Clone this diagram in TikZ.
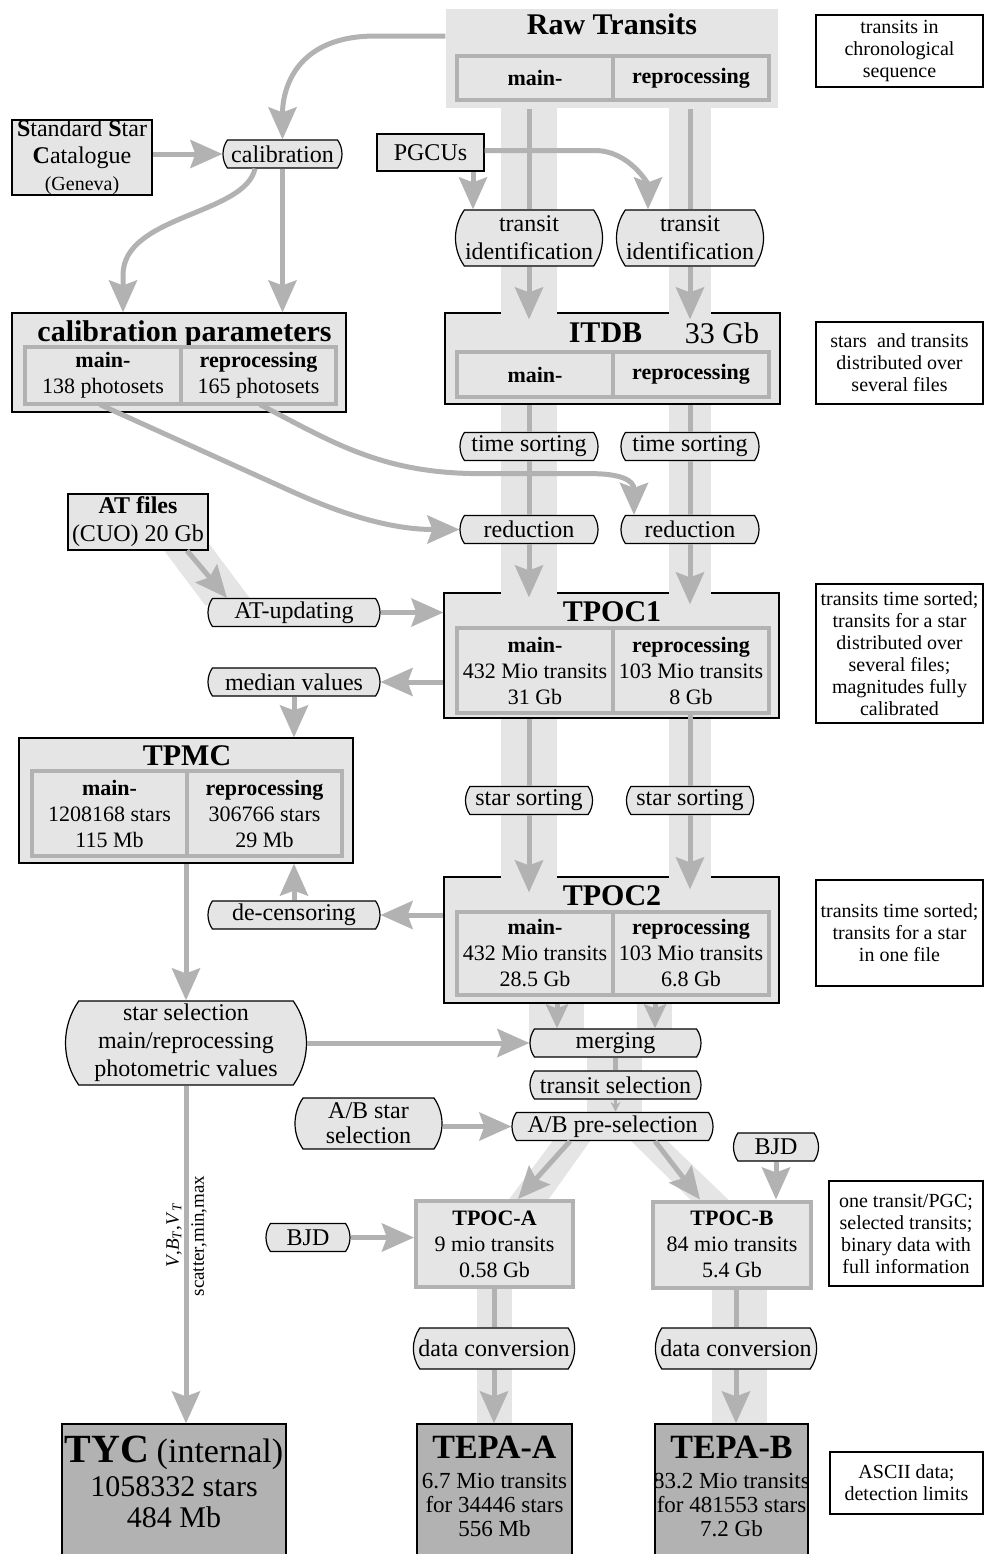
\documentclass[tikz,border=0pt]{standalone}
\usepackage{fontspec}
\setmainfont{Liberation Serif}
\usepackage{tikz}
\usetikzlibrary{arrows.meta,shapes.misc}
\definecolor{boxgray}{gray}{0.9}
\definecolor{bandgray}{gray}{0.9}
\definecolor{arrowgray}{gray}{0.7}
\definecolor{tepagray}{gray}{0.7}

\begin{document}
\begin{tikzpicture}[x=0.5pt, y=-0.5pt,
    store/.style={rectangle, draw=black, line width=0.6pt, fill=boxgray, inner sep=0pt, align=center},
    cell/.style={rectangle, draw=arrowgray, line width=1.6pt, fill=boxgray, inner sep=0pt, align=center, font=\fontsize{11}{13}\selectfont},
    proc/.style={rounded rectangle, rounded rectangle arc length=70, draw=black, line width=0.6pt, fill=boxgray, inner xsep=2pt, inner ysep=1pt, minimum height=14pt, align=center, font=\fontsize{12}{14}\selectfont},
    tag/.style={rectangle, draw=black, line width=0.6pt, fill=white, inner sep=0pt, align=center, font=\fontsize{10}{11}\selectfont},
    boxtitle/.style={inner sep=0pt, font=\fontsize{15}{17}\selectfont\bfseries},
    flow/.style={draw=arrowgray, line width=2.5pt, -{Stealth[length=16pt, width=14pt, inset=2.5pt]}},
    flowshort/.style={draw=arrowgray, line width=2.5pt, -{Stealth[length=12pt, width=11pt, inset=2pt]}},
    flowline/.style={draw=arrowgray, line width=2.5pt}
  ]
\fill[white] (0,0) rectangle (984,1554);
\useasboundingbox (0,0) rectangle (984,1554);

\fill[bandgray] (501,100) rectangle (557,990);
\fill[bandgray] (669,100) rectangle (711,990);
\fill[bandgray] (529,990) rectangle (584,1043);
\fill[bandgray] (637,990) rectangle (672,1043);
\fill[bandgray] (587,1043) rectangle (642,1126);
\fill[bandgray] (561,1130) -- (598,1130) -- (541,1210) -- (501,1210) -- cycle;
\fill[bandgray] (620,1130) -- (656,1130) -- (739,1210) -- (701,1210) -- cycle;
\fill[bandgray] (477,1280) rectangle (512,1430);
\fill[bandgray] (712,1280) rectangle (767,1430);
\fill[bandgray] (160,545) -- (210,545) -- (255,605) -- (205,605) -- cycle;

\node[store, draw=none, minimum width=166pt, minimum height=49.5pt] (rawbox) at (612,58.5) {};
\node[boxtitle] (rawtitle) at (612,24) {Raw Transits};
\node[cell, minimum width=78pt, minimum height=22pt] (rawmain) at (535,78) {\textbf{main-}};
\node[cell, minimum width=78pt, minimum height=22pt] (rawrepro) at (691,78) {\textbf{reprocessing}};

\node[store, minimum width=167.5pt, minimum height=45.5pt] (itdb) at (612.5,358.5) {};
\node[boxtitle] (itdbtitle) at (605.5,333) {ITDB};
\node[inner sep=0pt, font=\fontsize{15}{17}\selectfont] (itdbsize) at (722,333) {33 Gb};
\node[cell, minimum width=78pt, minimum height=22.5pt] (itdbmain) at (535,374.5) {\textbf{main-}};
\node[cell, minimum width=78pt, minimum height=22.5pt] (itdbrepro) at (691,374.5) {\textbf{reprocessing}};

\node[store, minimum width=167.5pt, minimum height=62.5pt] (tpoc1) at (611.5,655.5) {};
\node[boxtitle] (tpoc1title) at (612,612) {TPOC1};
\node[cell, minimum width=78pt, minimum height=42.5pt] (tpoc1main) at (535,670.5) {\textbf{main-}\\432 Mio transits\\31 Gb};
\node[cell, minimum width=78pt, minimum height=42.5pt] (tpoc1repro) at (691,670.5) {\textbf{reprocessing}\\103 Mio transits\\8 Gb};

\node[store, minimum width=167.5pt, minimum height=63pt] (tpoc2) at (611.5,940) {};
\node[boxtitle] (tpoc2title) at (612,896) {TPOC2};
\node[cell, minimum width=78pt, minimum height=41.5pt] (tpoc2main) at (535,953.5) {\textbf{main-}\\432 Mio transits\\28.5 Gb};
\node[cell, minimum width=78pt, minimum height=41.5pt] (tpoc2repro) at (691,953.5) {\textbf{reprocessing}\\103 Mio transits\\6.8 Gb};

\foreach \yy in {313,593,877} {
  \fill[bandgray] (501,\yy-3) rectangle (557,\yy+3);
  \fill[bandgray] (669,\yy-3) rectangle (711,\yy+3);
}

\node[store, minimum width=167pt, minimum height=49.5pt] (calpar) at (179,362.5) {};
\node[boxtitle] (calpartitle) at (184.5,334) {calibration parameters};
\node[cell, minimum width=78pt, minimum height=28.5pt] (calparmain) at (103,375.5) {\textbf{main-}\\138 photosets};
\node[cell, minimum width=77.5pt, minimum height=28.5pt] (calparrepro) at (258.5,375.5) {\textbf{reprocessing}\\165 photosets};

\node[store, minimum width=167pt, minimum height=62.5pt] (tpmc) at (186,800.5) {};
\node[boxtitle] (tpmctitle) at (187,756) {TPMC};
\node[cell, minimum width=77.5pt, minimum height=42.5pt] (tpmcmain) at (109.5,813.5) {\textbf{main-}\\1208168 stars\\115 Mb};
\node[cell, minimum width=77.5pt, minimum height=42.5pt] (tpmcrepro) at (264.5,813.5) {\textbf{reprocessing}\\306766 stars\\29 Mb};

\node[store, minimum width=70pt, minimum height=37.5pt, font=\fontsize{12}{13.5}\selectfont] (stdcat) at (82,157.5) {\textbf{S}tandard \textbf{S}tar\\\textbf{C}atalogue\\{\fontsize{10}{11}\selectfont(Geneva)}};
\node[store, minimum width=53.5pt, minimum height=18.5pt, font=\fontsize{12}{14}\selectfont] (pgcus) at (430.5,152.5) {PGCUs};
\node[store, minimum width=70pt, minimum height=28pt, font=\fontsize{12}{14}\selectfont] (atfiles) at (138,522) {\textbf{AT files}\\(CUO) 20 Gb};

\node[store, draw=arrowgray, line width=2pt, minimum width=78.5pt, minimum height=43pt, font=\fontsize{11}{13}\selectfont] (tpocA) at (494.5,1244) {\textbf{TPOC-A}\\9 mio transits\\0.58 Gb};
\node[store, draw=arrowgray, line width=2pt, minimum width=79pt, minimum height=43pt, font=\fontsize{11}{13}\selectfont] (tpocB) at (732,1244.5) {\textbf{TPOC-B}\\84 mio transits\\5.4 Gb};

\node[store, fill=tepagray, minimum width=77.5pt, minimum height=66pt] (tepaA) at (494.5,1490) {};
\node[store, fill=tepagray, minimum width=76.5pt, minimum height=66pt] (tepaB) at (731.5,1490) {};
\node[store, fill=tepagray, minimum width=112pt, minimum height=66pt] (tyc) at (174,1490) {};
\node[inner sep=0pt, align=center, font=\fontsize{11.5}{12}\selectfont] (tepaAtext) at (494.5,1486) {{\fontsize{17}{17}\selectfont\textbf{TEPA-A}}\\[3pt]6.7 Mio transits\\for 34446 stars\\556 Mb};
\node[inner sep=0pt, align=center, font=\fontsize{11.5}{12}\selectfont] (tepaBtext) at (731.5,1486) {{\fontsize{17}{17}\selectfont\textbf{TEPA-B}}\\[3pt]83.2 Mio transits\\for 481553 stars\\7.2 Gb};
\node[inner sep=0pt, align=center, font=\fontsize{15}{15.5}\selectfont] (tyctext) at (174,1482) {{\fontsize{20}{20}\selectfont\textbf{TYC}} {\fontsize{17}{17}\selectfont(internal)}\\[1.5pt]1058332 stars\\484 Mb};

\node[tag, minimum width=83.5pt, minimum height=36pt] (tag1) at (899.5,51) {transits in\\chronological\\sequence};
\node[tag, minimum width=83.5pt, minimum height=41pt] (tag2) at (899.5,363) {stars \ and transits\\distributed over\\several files};
\node[tag, minimum width=83.5pt, minimum height=69.5pt] (tag3) at (899.5,653.5) {transits time sorted;\\transits for a star\\distributed over\\several files;\\magnitudes fully\\calibrated};
\node[tag, minimum width=83.5pt, minimum height=53pt] (tag4) at (899.5,933) {transits time sorted;\\transits for a star\\in one file};
\node[tag, minimum width=77pt, minimum height=52.5pt] (tag5) at (906,1233.5) {one transit/PGC;\\selected transits;\\binary data with\\full information};
\node[tag, minimum width=76.5pt, minimum height=31pt] (tag6) at (906.5,1483) {ASCII data;\\detection limits};

\node[proc, minimum width=63.5pt] (calib) at (282.5,154) {calibration};
\node[proc, minimum width=77.5pt, minimum height=28pt] (ti1) at (529,238) {transit\\identification};
\node[proc, minimum width=77.5pt, minimum height=28pt] (ti2) at (690,238) {transit\\identification};
\node[proc, minimum width=73pt] (ts1) at (529,446.5) {time sorting};
\node[proc, minimum width=73pt] (ts2) at (690,446.5) {time sorting};
\node[proc, minimum width=73pt] (red1) at (529,529.5) {reduction};
\node[proc, minimum width=73pt] (red2) at (690,529.5) {reduction};
\node[proc, minimum width=90pt] (atupd) at (294,612.5) {AT-updating};
\node[proc, minimum width=90pt] (median) at (294,682) {median values};
\node[proc, minimum width=67.5pt] (ss1) at (529,800.5) {star sorting};
\node[proc, minimum width=67.5pt] (ss2) at (690,800.5) {star sorting};
\node[proc, minimum width=90pt] (decens) at (294,915) {de-censoring};
\node[proc, minimum width=124.5pt, minimum height=42pt] (starsel) at (186,1043) {star selection\\main/reprocessing\\photometric values};
\node[proc, minimum width=89.5pt] (merging) at (615.5,1043) {merging};
\node[proc, minimum width=89.5pt] (transsel) at (615.5,1085) {transit selection};
\node[proc, minimum width=104.5pt] (abpre) at (612.5,1126.5) {A/B pre-selection};
\node[proc, minimum width=77.5pt, minimum height=25.5pt, font=\fontsize{12}{12.5}\selectfont] (abstar) at (368.5,1123.5) {A/B star\\selection};
\node[proc, minimum width=46.5pt] (bjdB) at (776,1147) {BJD};
\node[proc, minimum width=46pt] (bjdA) at (308,1237.5) {BJD};
\node[proc, minimum width=77.5pt, minimum height=20.5pt] (dcA) at (494,1348.5) {data conversion};
\node[proc, minimum width=78pt, minimum height=20.5pt] (dcB) at (736,1348.5) {data conversion};

\node[rotate=90, inner sep=0pt, font=\fontsize{9.5}{10}\selectfont] (maglabel) at (174,1235) {\textit{V},\textit{B}\textsubscript{\textit{T}},\textit{V}\textsubscript{\textit{T}}};
\node[rotate=90, inner sep=0pt, font=\fontsize{9.5}{10}\selectfont] (scatlabel) at (199,1236) {scatter,min,max};

\draw[flow] ([yshift=11.25pt]rawbox.west) -- ++(-70,0) .. controls +(-80,0) and +(0,-50) .. (calib.north);
\draw[flow] (stdcat.east |- calib.west) -- (calib.west);
\draw[flow] (calib.south) -- (calib.south |- calpar.north);
\draw[flow] ([xshift=-13.75pt]calib.south) .. controls (245,215) and (123,215) .. (123,275) -- ([xshift=-28pt]calpar.north);
\draw[flow] ([xshift=21.25pt]pgcus.south) -- ([xshift=-28pt]ti1.north);
\draw[flow] ([yshift=1pt]pgcus.east) -- ++(110,0) .. controls +(35,0) and +(0,-25) .. ([xshift=-21pt]ti2.north);

\draw[flowline] (rawbox.south -| ti1.north) -- (ti1.north);
\draw[flowline] (rawbox.south -| ti2.north) -- (ti2.north);
\draw[flow, shorten >=-3.5pt] (ti1.south) -- (ti1.south |- itdb.north);
\draw[flow, shorten >=-3.5pt] (ti2.south) -- (ti2.south |- itdb.north);
\draw[flowline] (itdb.south -| ts1.north) -- (ts1.north);
\draw[flowline] (itdb.south -| ts2.north) -- (ts2.north);
\draw[flowline] (ts1.south) -- (red1.north);
\draw[flowline] (ts2.south) -- (red2.north);
\draw[flow, shorten >=-2.5pt] (red1.south) -- (red1.south |- tpoc1.north);
\draw[flow, shorten >=-6pt] (red2.south) -- (red2.south |- tpoc1.north);

\draw[flow] ([xshift=-39.5pt,yshift=4pt]calpar.south) -- ++(190,86) .. controls +(70,32) and +(-55,0) .. (red1.west);
\draw[flow] ([xshift=40.5pt,yshift=4pt]calpar.south) .. controls +(70,36) and +(-100,0) .. ++(220,69) -- ++(110,0) .. controls +(30,0) and +(0,-35) .. ([xshift=-28pt]red2.north);

\draw[flow] ([xshift=24.5pt]atfiles.south) -- ([xshift=-33.5pt]atupd.north);
\draw[flow] (atupd.east) -- (atupd.east -| tpoc1.west);
\draw[flow] (tpoc1.west |- median.east) -- (median.east);
\draw[flow] (median.south) -- (median.south |- tpmc.north);

\draw[flowline] (tpoc1.south -| ss1.north) -- (ss1.north);
\draw[flowline] (tpoc1repro.south -| ss2.north) -- (ss2.north);
\draw[flow, shorten >=-8pt] (ss1.south) -- (ss1.south |- tpoc2.north);
\draw[flow, shorten >=-6.5pt] (ss2.south) -- (ss2.south |- tpoc2.north);

\draw[flow] (tpoc2.west |- decens.east) -- (decens.east);
\draw[flow] (decens.north) -- (decens.north |- tpmc.south);
\draw[flow] (tpmc.south) -- (tpmc.south |- starsel.north);
\draw[flow] (starsel.east) -- (merging.west);
\draw[flow] (starsel.south) -- (starsel.south |- tyc.north);

\draw[flowshort] ([xshift=-29.25pt]merging.north |- tpoc2.south) -- ([xshift=-29.25pt]merging.north);
\draw[flowshort] ([xshift=19.75pt]merging.north |- tpoc2.south) -- ([xshift=19.75pt]merging.north);
\draw[flowline] (merging.south) -- (transsel.north);
\draw[draw=arrowgray, line width=1.5pt, -{Stealth[length=5pt, width=5pt]}] (transsel.south) -- (transsel.south |- abpre.north);
\draw[flow] (abstar.east |- abpre.west) -- (abpre.west);
\draw[flow] ([xshift=-21.25pt]abpre.south) -- ([xshift=11.75pt]tpocA.north);
\draw[flow] ([xshift=21.25pt]abpre.south) -- ([xshift=-16pt]tpocB.north);
\draw[flow] (bjdB.south) -- (bjdB.south |- tpocB.north);
\draw[flow] (bjdA.east) -- (bjdA.east -| tpocA.west);

\draw[flowline] (tpocA.south -| dcA.north) -- (dcA.north);
\draw[flowline] (tpocB.south -| dcB.north) -- (dcB.north);
\draw[flow] (dcA.south) -- (dcA.south |- tepaA.north);
\draw[flow] (dcB.south) -- (dcB.south |- tepaB.north);
\end{tikzpicture}
\end{document}
